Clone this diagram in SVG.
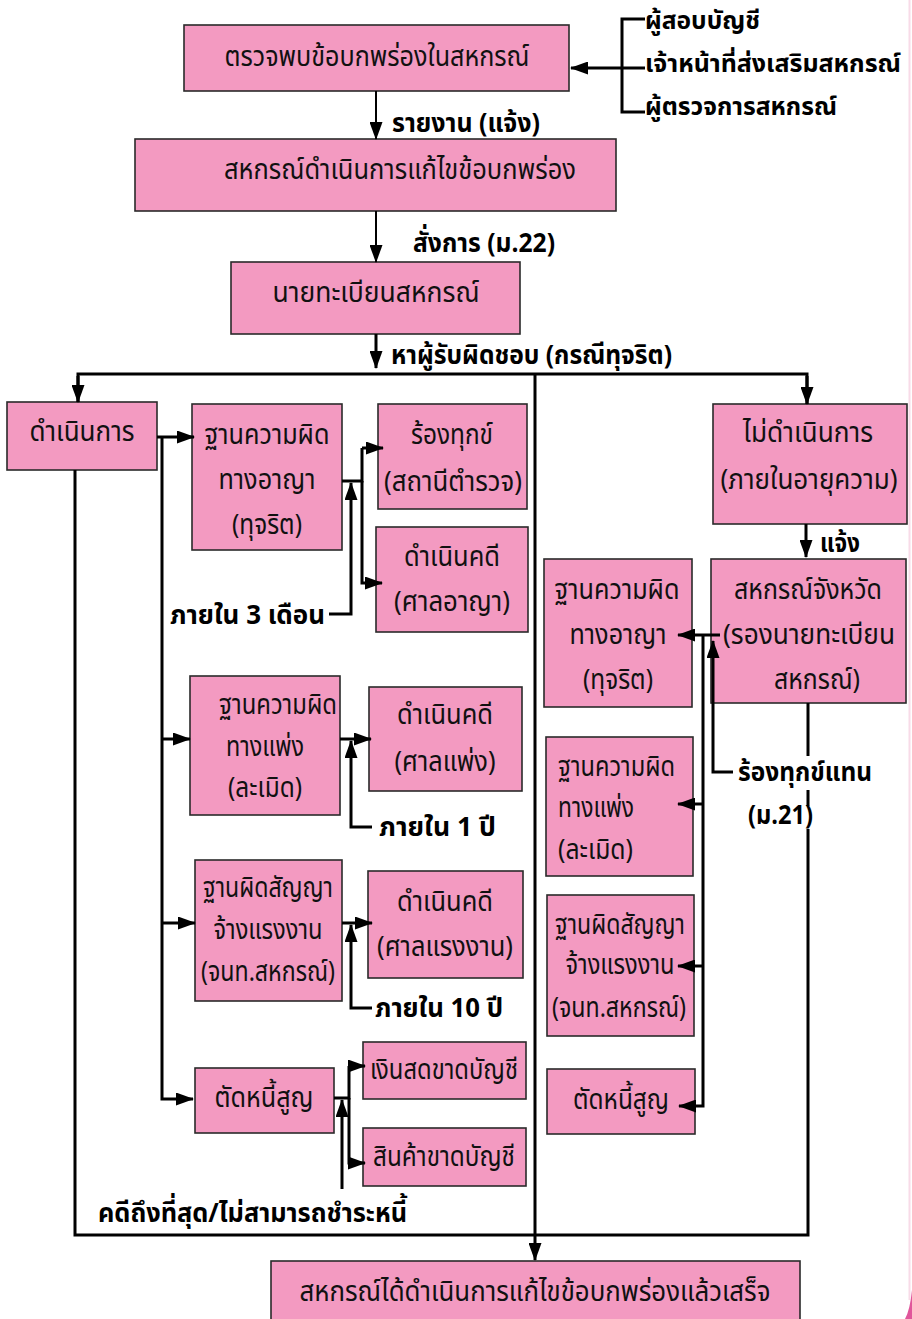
<svg xmlns="http://www.w3.org/2000/svg" width="912" height="1319" viewBox="0 0 912 1319">
<defs>
<marker id="ah" viewBox="0 0 18 13" refX="17" refY="6.5" markerWidth="18" markerHeight="13" markerUnits="userSpaceOnUse" orient="auto">
<path d="M0,0 L18,6.5 L0,13 z" fill="#000"/>
</marker>
<style>
.box{fill:#F39AC1;stroke:#2a2a2a;stroke-width:1.6}
.t{font-family:"Noto Sans Thai","Noto Sans","DejaVu Sans",sans-serif;font-size:28px;fill:#111;text-anchor:middle;dominant-baseline:central}
.tl{font-family:"Noto Sans Thai","Noto Sans","DejaVu Sans",sans-serif;font-size:28px;fill:#111;dominant-baseline:central}
.tc{font-family:"Noto Sans Thai","Noto Sans","DejaVu Sans",sans-serif;font-size:29px;fill:#111;text-anchor:middle;dominant-baseline:central}
.lb{font-family:"Noto Sans Thai","Noto Sans","DejaVu Sans",sans-serif;font-size:27px;font-weight:bold;fill:#000;dominant-baseline:central}
.ls{font-family:"Noto Sans Thai","Noto Sans","DejaVu Sans",sans-serif;font-size:24px;font-weight:bold;fill:#000;dominant-baseline:central}
.ln{fill:none;stroke:#000;stroke-width:3}
.lt{fill:none;stroke:#000;stroke-width:2}
.bg{fill:#fff}
</style>
</defs>
<rect width="912" height="1319" fill="#fff"/>
<path d="M909.5,0 V1300" stroke="#f8dbe8" stroke-width="2" fill="none"/>
<path d="M912,1290 Q910,1310 905,1319 L912,1319 z" fill="#e0569b"/>

<g id="n1"><rect class="box" x="184" y="25" width="385" height="66"/><text class="tc" x="377" y="57" textLength="305" lengthAdjust="spacingAndGlyphs">ตรวจพบข้อบกพร่องในสหกรณ์</text></g>
<g id="n2"><rect class="box" x="135" y="139" width="481" height="72"/><text class="tc" x="400" y="170" textLength="352" lengthAdjust="spacingAndGlyphs">สหกรณ์ดำเนินการแก้ไขข้อบกพร่อง</text></g>
<g id="n3"><rect class="box" x="231" y="262" width="289" height="72"/><text class="tc" x="376" y="293" textLength="207" lengthAdjust="spacingAndGlyphs">นายทะเบียนสหกรณ์</text></g>

<g id="src">
<text class="ls" x="645" y="22" textLength="115" lengthAdjust="spacingAndGlyphs">ผู้สอบบัญชี</text>
<text class="ls" x="645" y="65" textLength="256" lengthAdjust="spacingAndGlyphs">เจ้าหน้าที่ส่งเสริมสหกรณ์</text>
<text class="ls" x="645" y="108" textLength="192" lengthAdjust="spacingAndGlyphs">ผู้ตรวจการสหกรณ์</text>
</g>

<g id="n4"><rect class="box" x="7" y="402" width="150" height="68"/><text class="t" x="82" y="432" textLength="105" lengthAdjust="spacingAndGlyphs">ดำเนินการ</text></g>
<g id="n5"><rect class="box" x="192" y="404" width="150" height="146"/>
<text class="t" x="267" y="435" textLength="125" lengthAdjust="spacingAndGlyphs">ฐานความผิด</text>
<text class="t" x="267" y="480" textLength="97" lengthAdjust="spacingAndGlyphs">ทางอาญา</text>
<text class="t" x="267" y="525" textLength="70" lengthAdjust="spacingAndGlyphs">(ทุจริต)</text></g>
<g id="n6"><rect class="box" x="378" y="404" width="149" height="105"/>
<text class="t" x="452" y="435" textLength="82" lengthAdjust="spacingAndGlyphs">ร้องทุกข์</text>
<text class="t" x="453" y="482" textLength="138" lengthAdjust="spacingAndGlyphs">(สถานีตำรวจ)</text></g>
<g id="n7"><rect class="box" x="376" y="527" width="152" height="105"/>
<text class="t" x="452" y="557" textLength="96" lengthAdjust="spacingAndGlyphs">ดำเนินคดี</text>
<text class="t" x="452" y="602" textLength="116" lengthAdjust="spacingAndGlyphs">(ศาลอาญา)</text></g>

<g id="n8"><rect class="box" x="190" y="676" width="150" height="139"/>
<text class="t" x="278" y="705" textLength="118" lengthAdjust="spacingAndGlyphs">ฐานความผิด</text>
<text class="t" x="265" y="747" textLength="78" lengthAdjust="spacingAndGlyphs">ทางแพ่ง</text>
<text class="t" x="265" y="788" textLength="74" lengthAdjust="spacingAndGlyphs">(ละเมิด)</text></g>
<g id="n9"><rect class="box" x="369" y="687" width="153" height="104"/>
<text class="t" x="445" y="715" textLength="96" lengthAdjust="spacingAndGlyphs">ดำเนินคดี</text>
<text class="t" x="445" y="762" textLength="101" lengthAdjust="spacingAndGlyphs">(ศาลแพ่ง)</text></g>

<g id="n10"><rect class="box" x="195" y="860" width="147" height="141"/>
<text class="t" x="268" y="888" textLength="130" lengthAdjust="spacingAndGlyphs">ฐานผิดสัญญา</text>
<text class="t" x="268" y="930" textLength="109" lengthAdjust="spacingAndGlyphs">จ้างแรงงาน</text>
<text class="t" x="268" y="972" textLength="134" lengthAdjust="spacingAndGlyphs">(จนท.สหกรณ์)</text></g>
<g id="n11"><rect class="box" x="368" y="871" width="155" height="107"/>
<text class="t" x="445" y="902" textLength="96" lengthAdjust="spacingAndGlyphs">ดำเนินคดี</text>
<text class="t" x="445" y="947" textLength="136" lengthAdjust="spacingAndGlyphs">(ศาลแรงงาน)</text></g>

<g id="n12"><rect class="box" x="195" y="1068" width="139" height="65"/>
<text class="t" x="264" y="1098" textLength="99" lengthAdjust="spacingAndGlyphs">ตัดหนี้สูญ</text></g>
<g id="n13"><rect class="box" x="363" y="1042" width="163" height="57"/>
<text class="t" x="444" y="1070" textLength="148" lengthAdjust="spacingAndGlyphs">เงินสดขาดบัญชี</text></g>
<g id="n14"><rect class="box" x="363" y="1128" width="163" height="58"/>
<text class="t" x="444" y="1157" textLength="142" lengthAdjust="spacingAndGlyphs">สินค้าขาดบัญชี</text></g>

<g id="n15"><rect class="box" x="713" y="404" width="194" height="120"/>
<text class="t" x="808" y="433" textLength="130" lengthAdjust="spacingAndGlyphs">ไม่ดำเนินการ</text>
<text class="t" x="809" y="480" textLength="177" lengthAdjust="spacingAndGlyphs">(ภายในอายุความ)</text></g>
<g id="n16"><rect class="box" x="711" y="559" width="195" height="144"/>
<text class="t" x="808" y="590" textLength="148" lengthAdjust="spacingAndGlyphs">สหกรณ์จังหวัด</text>
<text class="t" x="809" y="635" textLength="172" lengthAdjust="spacingAndGlyphs">(รองนายทะเบียน</text>
<text class="t" x="817" y="680" textLength="86" lengthAdjust="spacingAndGlyphs">สหกรณ์)</text></g>
<g id="n17"><rect class="box" x="544" y="559" width="148" height="148"/>
<text class="t" x="617" y="590" textLength="125" lengthAdjust="spacingAndGlyphs">ฐานความผิด</text>
<text class="t" x="618" y="635" textLength="97" lengthAdjust="spacingAndGlyphs">ทางอาญา</text>
<text class="t" x="618" y="680" textLength="70" lengthAdjust="spacingAndGlyphs">(ทุจริต)</text></g>
<g id="n18"><rect class="box" x="546" y="737" width="147" height="139"/>
<text class="tl" x="558" y="767" textLength="117" lengthAdjust="spacingAndGlyphs">ฐานความผิด</text>
<text class="tl" x="558" y="808" textLength="76" lengthAdjust="spacingAndGlyphs">ทางแพ่ง</text>
<text class="tl" x="558" y="850" textLength="75" lengthAdjust="spacingAndGlyphs">(ละเมิด)</text></g>
<g id="n19"><rect class="box" x="547" y="895" width="147" height="141"/>
<text class="t" x="620" y="925" textLength="130" lengthAdjust="spacingAndGlyphs">ฐานผิดสัญญา</text>
<text class="t" x="620" y="965" textLength="109" lengthAdjust="spacingAndGlyphs">จ้างแรงงาน</text>
<text class="t" x="619" y="1008" textLength="134" lengthAdjust="spacingAndGlyphs">(จนท.สหกรณ์)</text></g>
<g id="n20"><rect class="box" x="547" y="1069" width="148" height="65"/>
<text class="t" x="621" y="1100" textLength="96" lengthAdjust="spacingAndGlyphs">ตัดหนี้สูญ</text></g>

<g id="n21"><rect class="box" x="271" y="1261" width="529" height="62"/>
<text class="tc" x="535" y="1292" textLength="471" lengthAdjust="spacingAndGlyphs">สหกรณ์ได้ดำเนินการแก้ไขข้อบกพร่องแล้วเสร็จ</text></g>

<g id="connectors">
<path class="lt" d="M376,91 V139" marker-end="url(#ah)"/>
<path class="lt" d="M376,211 V262" marker-end="url(#ah)"/>
<path class="ln" d="M645,19 H622 V112 H645 M622,68 H645"/>
<path class="ln" d="M622,68 H571" marker-end="url(#ah)"/>
<path class="ln" d="M376,334 V368" marker-end="url(#ah)"/>
<path class="ln" d="M78,402 V374 H807 V404"/>
<path class="ln" d="M78,376 V402" marker-end="url(#ah)"/>
<path class="ln" d="M807,376 V404" marker-end="url(#ah)"/>
<path class="ln" d="M535,374 V1260" marker-end="url(#ah)"/>
<path class="ln" d="M75,470 V1235 H808 V703"/>
<path class="ln" d="M157,437 H194" marker-end="url(#ah)"/>
<path class="ln" d="M162,437 V1099 H193" marker-end="url(#ah)"/>
<path class="ln" d="M162,739 H190" marker-end="url(#ah)"/>
<path class="ln" d="M162,923 H195" marker-end="url(#ah)"/>
<path class="ln" d="M342,481 H362 V448"/>
<path class="ln" d="M362,448 H383" marker-end="url(#ah)"/>
<path class="ln" d="M362,481 V583 H382" marker-end="url(#ah)"/>
<path class="ln" d="M329,614 H351 V483" marker-end="url(#ah)"/>
<path class="ln" d="M340,739 H371" marker-end="url(#ah)"/>
<path class="ln" d="M372,827 H351 V741" marker-end="url(#ah)"/>
<path class="ln" d="M342,923 H372" marker-end="url(#ah)"/>
<path class="ln" d="M372,1008 H351 V925" marker-end="url(#ah)"/>
<path class="ln" d="M334,1098 H349 V1066"/>
<path class="ln" d="M349,1066 H365" marker-end="url(#ah)"/>
<path class="ln" d="M349,1098 V1163 H365" marker-end="url(#ah)"/>
<path class="ln" d="M342,1189 V1100" marker-end="url(#ah)"/>
<path class="ln" d="M806,524 V557" marker-end="url(#ah)"/>
<path class="ln" d="M720,635 H678" marker-end="url(#ah)"/>
<path class="ln" d="M703,635 V1106 H679" marker-end="url(#ah)"/>
<path class="ln" d="M703,804 H678" marker-end="url(#ah)"/>
<path class="ln" d="M703,966 H678" marker-end="url(#ah)"/>
<path class="ln" d="M733,772 H713 V641" marker-end="url(#ah)"/>
</g>

<g id="labels">
<rect class="bg" x="800" y="756" width="18" height="34"/>
<rect class="bg" x="800" y="806" width="18" height="23"/>
<text class="lb" x="392" y="123" textLength="148" lengthAdjust="spacingAndGlyphs">รายงาน (แจ้ง)</text>
<text class="lb" x="413" y="243" textLength="142" lengthAdjust="spacingAndGlyphs">สั่งการ (ม.22)</text>
<text class="lb" x="391" y="355" textLength="281" lengthAdjust="spacingAndGlyphs">หาผู้รับผิดชอบ (กรณีทุจริต)</text>
<text class="lb" x="170" y="615" textLength="155" lengthAdjust="spacingAndGlyphs">ภายใน 3 เดือน</text>
<text class="lb" x="379" y="827" textLength="117" lengthAdjust="spacingAndGlyphs">ภายใน 1 ปี</text>
<text class="lb" x="375" y="1008" textLength="128" lengthAdjust="spacingAndGlyphs">ภายใน 10 ปี</text>
<text class="lb" x="98" y="1213" textLength="309" lengthAdjust="spacingAndGlyphs">คดีถึงที่สุด/ไม่สามารถชำระหนี้</text>
<text class="lb" x="820" y="543" textLength="40" lengthAdjust="spacingAndGlyphs">แจ้ง</text>
<text class="lb" x="738" y="772" textLength="134" lengthAdjust="spacingAndGlyphs">ร้องทุกข์แทน</text>
<text class="lb" x="748" y="815" textLength="65" lengthAdjust="spacingAndGlyphs">(ม.21)</text>
</g>
</svg>
